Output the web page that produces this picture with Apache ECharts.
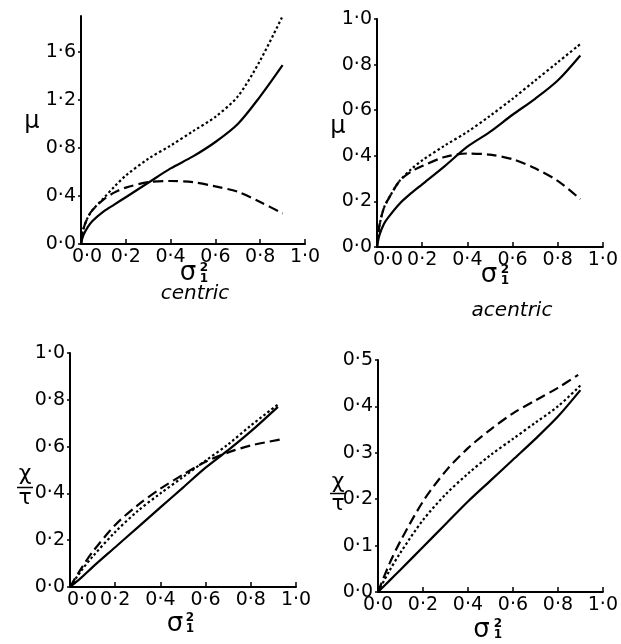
<!DOCTYPE html>
<html><head><meta charset="utf-8">
<script src="https://cdn.jsdelivr.net/npm/echarts@6/dist/echarts.min.js"></script>
<style>html,body{margin:0;padding:0;background:#fff}#c{width:621px;height:644px}</style>
</head><body><div id="c"></div>
<script>
// ---- data ----
// panel A: centric, mu vs sigma1^2
const sigmaA = [0, 0.01, 0.03, 0.05, 0.1, 0.15, 0.2, 0.3, 0.4, 0.5, 0.6, 0.7, 0.8, 0.9];
const muA_solid  = [0, 0.07, 0.14, 0.19, 0.27, 0.33, 0.39, 0.51, 0.63, 0.73, 0.85, 1.0, 1.23, 1.49];
const muA_dotted = [0, 0.12, 0.22, 0.28, 0.38, 0.48, 0.57, 0.71, 0.82, 0.94, 1.06, 1.23, 1.53, 1.9];
const muA_dashed = [0, 0.12, 0.22, 0.28, 0.37, 0.43, 0.47, 0.515, 0.525, 0.515, 0.48, 0.435, 0.35, 0.255];
// panel B: acentric, mu vs sigma1^2
const sigmaB = [0, 0.01, 0.03, 0.05, 0.1, 0.15, 0.2, 0.3, 0.4, 0.5, 0.6, 0.7, 0.8, 0.9];
const muB_solid  = [0, 0.05, 0.1, 0.13, 0.19, 0.235, 0.275, 0.355, 0.44, 0.505, 0.58, 0.65, 0.73, 0.84];
const muB_dotted = [0, 0.09, 0.17, 0.21, 0.29, 0.34, 0.38, 0.445, 0.505, 0.575, 0.65, 0.73, 0.81, 0.89];
const muB_dashed = [0, 0.09, 0.17, 0.21, 0.29, 0.33, 0.355, 0.395, 0.41, 0.405, 0.385, 0.345, 0.29, 0.21];
// panel C: centric, chi/tau vs sigma1^2
const sigmaC = [0, 0.05, 0.1, 0.2, 0.3, 0.4, 0.5, 0.6, 0.7, 0.8, 0.92];
const ctC_solid  = [0, 0.04, 0.085, 0.17, 0.255, 0.34, 0.425, 0.51, 0.585, 0.665, 0.77];
const ctC_dotted = [0, 0.07, 0.13, 0.235, 0.325, 0.40, 0.47, 0.54, 0.61, 0.69, 0.78];
const sigmaC_dashed = [0, 0.05, 0.1, 0.2, 0.3, 0.4, 0.5, 0.6, 0.7, 0.8, 0.93];
const ctC_dashed = [0, 0.08, 0.15, 0.265, 0.35, 0.42, 0.48, 0.535, 0.575, 0.605, 0.63];
// panel D: acentric, chi/tau vs sigma1^2
const sigmaD = [0, 0.05, 0.1, 0.2, 0.3, 0.4, 0.5, 0.6, 0.7, 0.8, 0.9];
const ctD_solid  = [0, 0.024, 0.048, 0.097, 0.146, 0.195, 0.24, 0.285, 0.33, 0.378, 0.435];
const ctD_dotted = [0, 0.045, 0.085, 0.155, 0.21, 0.255, 0.295, 0.33, 0.365, 0.40, 0.445];
const sigmaD_dashed = [0, 0.05, 0.1, 0.2, 0.3, 0.4, 0.5, 0.6, 0.7, 0.8, 0.89];
const ctD_dashed = [0, 0.06, 0.11, 0.195, 0.26, 0.31, 0.35, 0.385, 0.413, 0.44, 0.468];

// axis ranges / tick steps
const xRange = [0, 1], xStep = 0.2;
const yMaxes = [1.9, 1.0, 1.0, 0.5];
const ySteps = [0.4, 0.2, 0.2, 0.1];
const captions = ['centric', 'acentric'];

// ---- layout ----
const grids = [
  {left: 81,  top: 16,  width: 224, height: 228},
  {left: 377, top: 19,  width: 226, height: 228},
  {left: 70,  top: 353, width: 226, height: 234},
  {left: 378, top: 360, width: 226, height: 232}
];
const firstLabelPad = [12, 22, 24, 0];
const FONT = 'DejaVu Sans, sans-serif';
const FS = 19;
const ink = '#000';

function fmt(v){ return (Math.round(v*10)/10).toFixed(1).replace('.', '\u00B7'); }

const xAxes = grids.map((g,i)=>({
  gridIndex:i, type:'value', min:xRange[0], max:xRange[1], interval:xStep,
  axisLine:{show:true,onZero:false,lineStyle:{color:ink,width:2}},
  axisTick:{show:true,inside:true,length:5,lineStyle:{color:ink,width:1.5}},
  splitLine:{show:false},
  axisLabel:{margin:4,color:ink,fontFamily:FONT,fontSize:FS,
    formatter:(v)=> Math.abs(v)<1e-9 ? '{f|'+fmt(v)+'}' : fmt(v),
    rich:{f:{padding:[0,0,0,firstLabelPad[i]],fontFamily:FONT,fontSize:FS,color:ink}}}
}));
const yAxes = grids.map((g,i)=>({
  gridIndex:i, type:'value', min:0, max:yMaxes[i], interval:ySteps[i],
  axisLine:{show:true,onZero:false,lineStyle:{color:ink,width:2}},
  axisTick:{show:true,inside:false,length:3,lineStyle:{color:ink,width:1.5}},
  splitLine:{show:false},
  axisLabel:{margin:5,color:ink,fontFamily:FONT,fontSize:FS,showMaxLabel: i!==0, formatter:fmt}
}));

const zip = (xs, ys) => xs.map((x,k)=>[x, ys[k]]);
const styles = {
  solid:  {type:'solid'},
  dotted: {type:[2.5,2.5]},
  dashed: {type:[10,5]}
};
function line(i, xs, ys, kind){
  return {type:'line', xAxisIndex:i, yAxisIndex:i, data:zip(xs,ys), symbol:'none', showSymbol:false,
    smooth:0.3, silent:true,
    lineStyle:Object.assign({color:ink,width:2.2}, styles[kind])};
}
const series = [
  line(0, sigmaA, muA_solid, 'solid'),
  line(0, sigmaA, muA_dotted, 'dotted'),
  line(0, sigmaA, muA_dashed, 'dashed'),
  line(1, sigmaB, muB_solid, 'solid'),
  line(1, sigmaB, muB_dotted, 'dotted'),
  line(1, sigmaB, muB_dashed, 'dashed'),
  line(2, sigmaC, ctC_solid, 'solid'),
  line(2, sigmaC, ctC_dotted, 'dotted'),
  line(2, sigmaC_dashed, ctC_dashed, 'dashed'),
  line(3, sigmaD, ctD_solid, 'solid'),
  line(3, sigmaD, ctD_dotted, 'dotted'),
  line(3, sigmaD_dashed, ctD_dashed, 'dashed')
];

// ---- titles (axis names) ----
function txt(t, x, y, font){ return {type:'text', x:x, y:y, silent:true,
  style:{text:t, font:font, fill:ink, textAlign:'center', textVerticalAlign:'middle'}}; }
const SIG = '26px DejaVu Sans';
const SCR = 'bold 12px DejaVu Sans';
function sigmaLabel(cx, cy, sx, sy2, sy1){
  return [txt('\u03C3', cx, cy, SIG), txt('2', sx, sy2, SCR), txt('1', sx, sy1, SCR)];
}
function fracLabel(cx, yChi, yLine, yTau){
  return [txt('\u03C7', cx, yChi, '22px DejaVu Sans'),
    {type:'line', silent:true, shape:{x1:cx-8,y1:yLine,x2:cx+8,y2:yLine}, style:{stroke:ink,lineWidth:1.5}},
    txt('\u03C4', cx, yTau, '22px DejaVu Sans')];
}
const graphic = [].concat(
  [txt('\u03BC', 32, 122, '24px DejaVu Sans'), txt('\u03BC', 338, 127, '24px DejaVu Sans')],
  sigmaLabel(188, 273, 204, 268, 279),
  sigmaLabel(489, 275, 505, 270, 281),
  sigmaLabel(175, 624, 190, 618, 629),
  sigmaLabel(481.5, 630, 498, 624, 635),
  fracLabel(25, 474, 487.5, 498),
  fracLabel(338, 482, 493.5, 504),
  [txt(captions[0], 195, 294, 'oblique 20px DejaVu Sans'),
   txt(captions[1], 512, 311, 'oblique 20px DejaVu Sans')]
);

const chart = echarts.init(document.getElementById('c'), null, {renderer:'canvas'});
chart.setOption({
  animation:false, backgroundColor:'#fff',
  grid:grids, xAxis:xAxes, yAxis:yAxes, series:series, graphic:graphic
});
</script></body></html>
